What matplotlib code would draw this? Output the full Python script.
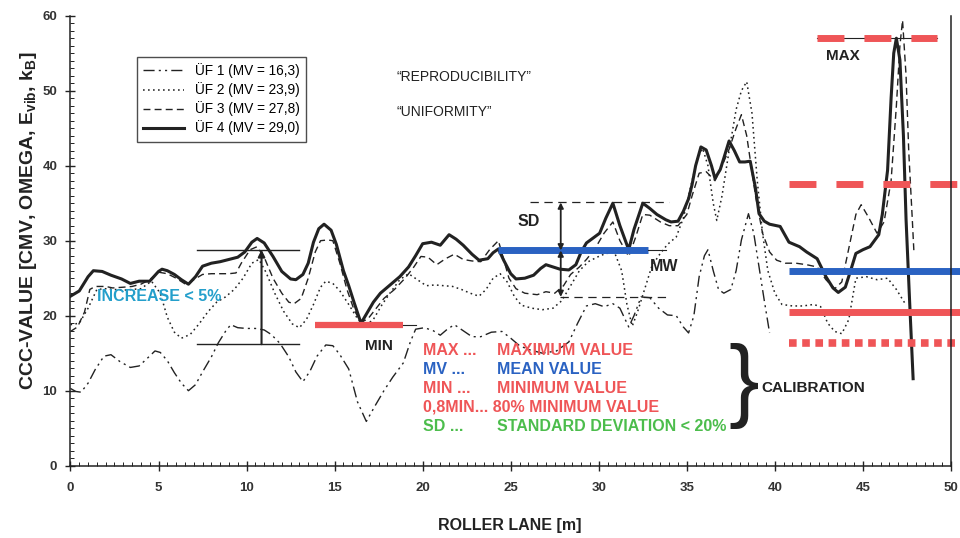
import matplotlib
matplotlib.use("Agg")
import matplotlib.pyplot as plt
from matplotlib.ticker import MultipleLocator

plt.rcParams["font.family"] = ["Liberation Sans", "DejaVu Sans"]
plt.rcParams["mathtext.fontset"] = "custom"
plt.rcParams["mathtext.rm"] = "Liberation Sans"
plt.rcParams["mathtext.bf"] = "Liberation Sans:bold"
plt.rcParams["lines.scale_dashes"] = False

# --- data ---
uf4_x = [0.0, 0.5, 1.0, 1.3, 1.8, 2.3, 2.9, 3.4, 3.9, 4.5, 5.0, 5.2, 5.5, 5.9, 6.3, 6.7,
         7.1, 7.5, 8.0, 8.5, 9.0, 9.5, 9.9, 10.3, 10.6, 11.0, 11.5, 12.0, 12.5, 12.8, 13.2,
         13.5, 13.8, 14.1, 14.4, 14.8, 15.1, 15.5, 15.8, 16.1, 16.5, 16.8, 17.2, 17.6, 18.2,
         18.7, 19.2, 19.6, 20.0, 20.5, 21.0, 21.5, 21.9, 22.3, 22.8, 23.2, 23.7, 24.0, 24.3,
         24.6, 25.0, 25.3, 25.8, 26.3, 26.7, 27.0, 27.4, 27.8, 28.3, 28.7, 29.0, 29.3, 29.7,
         30.05, 30.4, 30.8, 31.2, 31.7, 32.0, 32.5, 32.9, 33.3, 33.8, 34.1, 34.5, 34.8, 35.1,
         35.3, 35.5, 35.8, 36.1, 36.4, 36.6, 36.9, 37.1, 37.4, 37.7, 38.0, 38.3, 38.6, 38.9,
         39.1, 39.4, 39.7, 40.3, 40.8, 41.4, 41.8, 42.4, 42.9, 43.3, 43.6, 44.0, 44.3, 44.6,
         45.0, 45.4, 45.9, 46.1, 46.4, 46.6, 46.75, 46.9, 47.1, 47.3, 47.45, 47.65, 47.85]
uf4_y = [22.6, 23.3, 25.2, 26.0, 25.9, 25.4, 24.9, 24.3, 24.6, 24.6, 25.9, 26.2, 26.0, 25.5,
         24.8, 24.2, 25.2, 26.6, 27.0, 27.2, 27.5, 27.8, 28.5, 29.8, 30.3, 29.7, 27.9, 25.9,
         24.9, 24.8, 25.5, 27.0, 29.8, 31.6, 32.2, 31.4, 29.5, 26.0, 24.0, 21.8, 19.0, 20.2,
         21.8, 23.0, 24.2, 25.2, 26.5, 28.0, 29.6, 29.8, 29.4, 30.8, 30.2, 29.4, 28.2, 27.4,
         27.6, 28.4, 28.9, 27.4, 25.6, 24.9, 25.0, 25.4, 26.3, 26.8, 26.5, 26.2, 26.1, 26.8,
         28.5, 29.7, 30.4, 31.0, 33.0, 35.0, 32.0, 28.8, 31.5, 35.0, 34.3, 33.5, 32.8, 32.5,
         32.6, 33.9, 35.6, 37.5, 40.0, 42.5, 42.1, 40.0, 38.3, 39.5, 41.0, 43.3, 42.0, 40.5,
         40.5, 40.6, 37.0, 33.6, 32.6, 32.2, 31.9, 29.8, 29.2, 28.5, 27.6, 25.2, 23.7, 23.1,
         23.8, 26.0, 28.3, 28.8, 29.2, 30.8, 33.5, 39.4, 49.0, 55.0, 57.0, 54.1, 44.0, 32.8,
         22.0, 11.6]

uf3_x = [0.0, 0.4, 0.8, 1.1, 1.4, 2.0, 2.4, 3.0, 3.5, 4.0, 4.5, 5.0, 5.5, 6.0, 6.6, 7.0,
         7.5, 8.0, 8.5, 9.0, 9.4, 9.7, 10.2, 10.6, 11.0, 11.5, 12.0, 12.4, 12.7, 13.1, 13.5,
         13.9, 14.2, 14.6, 14.9, 15.3, 15.7, 16.1, 16.5, 16.9, 17.3, 17.8, 18.4, 19.0, 19.5,
         19.9, 20.3, 20.8, 21.3, 21.8, 22.3, 22.8, 23.3, 23.8, 24.3, 24.6, 24.9, 25.3, 25.8,
         26.5, 27.0, 27.5, 28.0, 28.4, 28.9, 29.3, 29.8, 30.3, 30.8, 31.2, 31.7, 32.1, 32.5,
         32.9, 33.5, 34.0, 34.5, 35.0, 35.3, 35.7, 36.1, 36.6, 37.0, 37.4, 37.8, 38.1, 38.4,
         38.6, 38.9, 39.3, 39.7, 40.1, 40.6, 41.2, 41.8, 42.4, 42.9, 43.4, 43.8, 44.2, 44.6,
         44.9, 45.3, 45.8, 46.2, 46.6, 46.9, 47.1, 47.25, 47.45, 47.6, 47.8, 47.9]
uf3_y = [17.9, 18.5, 20.5, 23.5, 23.9, 23.9, 23.7, 23.8, 23.9, 24.2, 24.8, 25.8, 25.6, 25.0,
         24.1, 24.8, 25.5, 25.6, 25.6, 25.6, 25.7, 27.0, 28.8, 29.2, 27.8, 25.0, 23.0, 21.8,
         21.6, 22.3, 25.0, 28.5, 30.0, 30.1, 30.0, 27.0, 23.5, 20.8, 19.1, 19.6, 20.8, 22.3,
         23.5, 25.0, 26.5, 27.9, 27.8, 26.8, 27.6, 28.2, 27.5, 27.3, 27.2, 28.8, 30.0, 27.5,
         25.0, 23.6, 23.0, 22.8, 23.2, 23.0, 24.0, 25.5, 26.5, 27.5, 29.0, 31.0, 32.5, 30.0,
         27.9, 30.5, 33.5, 33.4, 32.5, 32.0, 32.0, 33.5, 36.0, 39.0, 39.2, 38.0, 40.0, 42.2,
         45.0, 46.8, 44.0, 40.8, 36.0, 31.0, 28.5, 27.4, 27.0, 27.0, 26.8, 26.5, 24.8, 23.6,
         24.5, 29.0, 33.5, 34.8, 33.2, 31.0, 32.5, 38.0, 48.0, 56.0, 59.4, 52.0, 42.0, 33.0,
         28.3]

uf2_x = [0.0, 0.5, 1.0, 1.5, 2.0, 3.0, 4.0, 4.6, 5.1, 5.5, 5.9, 6.3, 6.8, 7.3, 7.8, 8.3,
         8.8, 9.3, 9.8, 10.3, 10.7, 11.1, 11.6, 12.1, 12.6, 13.0, 13.4, 13.8, 14.2, 14.5,
         14.9, 15.3, 15.8, 16.3, 16.7, 17.2, 17.7, 18.2, 18.7, 19.2, 19.7, 20.2, 20.7, 21.2,
         21.7, 22.2, 22.7, 23.2, 23.6, 24.0, 24.4, 24.8, 25.2, 25.6, 26.2, 26.8, 27.4, 27.9,
         28.4, 28.9, 29.4, 29.9, 30.4, 30.9, 31.3, 31.6, 31.9, 32.2, 32.6, 33.0, 33.4, 33.9,
         34.4, 34.8, 35.2, 35.6, 35.9, 36.2, 36.5, 36.7, 37.0, 37.4, 37.8, 38.1, 38.4, 38.7,
         39.0, 39.3, 39.6, 40.0, 40.4, 41.0, 41.6, 42.2, 42.6, 43.0, 43.4, 43.8, 44.2, 44.6,
         45.2, 45.8, 46.4, 46.9, 47.4]
uf2_y = [18.8, 19.0, 21.0, 23.5, 23.6, 23.4, 23.6, 24.6, 23.0, 19.8, 17.8, 17.0, 17.5, 18.9,
         20.5, 21.8, 22.5, 23.5, 25.0, 27.0, 27.5, 25.8, 23.0, 20.6, 18.9, 18.4, 19.5, 21.5,
         23.8, 24.6, 24.3, 23.3, 21.5, 19.6, 18.6, 19.5, 21.5, 23.2, 24.8, 25.6, 24.8, 24.0,
         24.1, 24.0, 23.9, 23.5, 23.0, 22.6, 23.5, 25.0, 25.6, 24.5, 22.6, 21.4, 21.0, 20.8,
         21.0, 22.0, 24.0, 26.0, 27.2, 27.8, 28.3, 28.4, 26.0, 21.5, 18.6, 20.5, 23.5, 26.5,
         28.0, 29.5, 30.5, 33.0, 37.0, 41.0, 42.3, 40.0, 35.0, 32.7, 36.0, 42.0, 47.5, 50.0,
         51.2, 47.0, 38.0, 31.0, 26.0, 23.0, 21.5, 21.3, 21.3, 21.5, 21.2, 19.0, 17.9, 17.6,
         19.5, 25.0, 25.2, 24.8, 25.0, 23.5, 21.6]

uf1_x = [0.0, 0.3, 0.6, 1.0, 1.4, 1.9, 2.3, 2.8, 3.4, 3.9, 4.4, 4.8, 5.1, 5.5, 5.9, 6.3,
         6.7, 7.1, 7.5, 8.0, 8.4, 8.8, 9.1, 9.5, 10.0, 10.5, 11.0, 11.4, 11.9, 12.4, 12.8,
         13.2, 13.6, 14.0, 14.5, 14.9, 15.3, 15.8, 16.3, 16.8, 17.3, 17.8, 18.3, 18.9, 19.3,
         19.6, 20.1, 20.6, 21.0, 21.4, 21.8, 22.3, 22.8, 23.3, 23.9, 24.5, 25.0, 25.5, 26.0,
         26.8, 27.6, 28.3, 28.8, 29.3, 29.8, 30.3, 30.8, 31.2, 31.7, 32.0, 32.4, 32.9, 33.4,
         33.9, 34.4, 34.8, 35.1, 35.4, 35.7, 36.0, 36.2, 36.5, 36.8, 37.1, 37.5, 37.8, 38.1,
         38.5, 38.8, 39.1, 39.4, 39.7]
uf1_y = [10.3, 9.9, 9.8, 11.0, 12.8, 14.6, 14.8, 13.9, 13.1, 13.3, 14.4, 15.3, 15.1, 14.0,
         12.4, 11.0, 10.0, 10.8, 12.5, 14.5, 16.4, 17.9, 18.8, 18.4, 18.3, 18.3, 18.1, 17.5,
         16.3, 14.5, 12.5, 11.2, 12.6, 14.6, 16.1, 16.0, 14.8, 12.9, 8.5, 5.9, 8.0, 10.0,
         11.8, 13.7, 16.5, 18.2, 18.4, 18.0, 17.4, 18.2, 18.8, 18.0, 17.2, 17.2, 17.8, 17.9,
         17.0, 16.0, 15.5, 15.0, 15.3, 16.5, 19.0, 21.3, 21.6, 21.2, 21.6, 21.0, 18.5, 20.0,
         22.5, 22.4, 21.0, 20.1, 20.0, 18.5, 17.7, 20.0, 25.2, 28.0, 28.8, 26.0, 23.5, 23.0,
         23.5, 26.0, 30.1, 33.6, 31.0, 26.5, 22.0, 17.7]

legend_labels = ["ÜF 1 (MV = 16,3)", "ÜF 2 (MV = 23,9)", "ÜF 3 (MV = 27,8)", "ÜF 4 (MV = 29,0)"]

max_level = 57.0
mw_level = 28.7
min_level = 18.7
cal_dashed = 37.6
cal_mean = 25.9
cal_min = 20.5
cal_08min = 16.3
sd_top, sd_bottom = 35.1, 22.5
inc_top, inc_bottom = 28.8, 16.2

key_left = ["MAX ...", "MV ...", "MIN ...", "0,8MIN... 80% MINIMUM VALUE", "SD ..."]
key_right = ["MAXIMUM VALUE", "MEAN VALUE", "MINIMUM VALUE", "", "STANDARD DEVIATION < 20%"]

RED = "#ef5557"
BLUE = "#2a62c2"
GREEN = "#4cbd4c"
CYAN = "#249fcb"
INK = "#222222"

fig = plt.figure(figsize=(9.6, 5.38), dpi=100)
ax = fig.add_axes([0.0734, 0.1344, 0.9172, 0.8364])

ax.plot(uf1_x, uf1_y, color=INK, lw=1.0, ls=(0, (8, 3, 1.5, 3, 1.5, 3)), label=legend_labels[0])
ax.plot(uf2_x, uf2_y, color=INK, lw=1.1, ls=(0, (1.2, 2.4)), label=legend_labels[1])
ax.plot(uf3_x, uf3_y, color=INK, lw=1.0, ls=(0, (5, 3)), label=legend_labels[2])
ax.plot(uf4_x, uf4_y, color=INK, lw=2.2, label=legend_labels[3])

# reference bars
ax.plot([13.9, 18.9], [min_level] * 2, color=RED, lw=4.5, solid_capstyle="butt")
ax.plot([18.9, 19.6], [min_level] * 2, color=INK, lw=0.8)
ax.plot([24.3, 32.8], [mw_level] * 2, color=BLUE, lw=5, solid_capstyle="butt")
ax.plot([32.8, 33.8], [mw_level] * 2, color=INK, lw=0.8)
ax.plot([42.4, 49.2], [max_level] * 2, color=INK, lw=0.8)
ax.plot([42.4, 49.2], [max_level] * 2, color=RED, lw=5, ls=(0, (19.4, 14.4)), dash_capstyle="butt")

# calibration levels on the right
ax.plot([40.8, 50.5], [cal_dashed] * 2, color=RED, lw=5, ls=(0, (19.4, 14.4)), dash_capstyle="butt",
        clip_on=False)
ax.plot([40.8, 50.5], [cal_mean] * 2, color=BLUE, lw=5, solid_capstyle="butt", clip_on=False)
ax.plot([40.8, 50.5], [cal_min] * 2, color=RED, lw=5, solid_capstyle="butt", clip_on=False)
ax.plot([40.8, 50.5], [cal_08min] * 2, color=RED, lw=5.5, ls=(0, (5.5, 4)), dash_capstyle="butt",
        clip_on=False)

# SD marker
ax.plot([26.1, 34.0], [sd_top] * 2, color=INK, lw=0.9, ls=(0, (6, 4)))
ax.plot([27.8, 34.0], [sd_bottom] * 2, color=INK, lw=0.9, ls=(0, (6, 4)))
for a, b in [(sd_top, mw_level), (mw_level, sd_bottom)]:
    ax.annotate("", xy=(27.84, a), xytext=(27.84, b),
                arrowprops=dict(arrowstyle="<|-|>", lw=1.3, color=INK, mutation_scale=8,
                                shrinkA=0, shrinkB=0))

# increase marker
ax.plot([7.2, 13.0], [inc_top] * 2, color=INK, lw=1.0)
ax.plot([7.2, 13.0], [inc_bottom] * 2, color=INK, lw=1.0)
ax.annotate("", xy=(10.85, inc_top), xytext=(10.85, inc_bottom),
            arrowprops=dict(arrowstyle="-|>", lw=1.5, color=INK, mutation_scale=10,
                            shrinkA=0, shrinkB=0))

# texts
ax.text(18.5, 51.8, "\u201cREPRODUCIBILITY\u201d", fontsize=10, color=INK, va="center")
ax.text(18.5, 47.1, "\u201cUNIFORMITY\u201d", fontsize=10, color=INK, va="center")
ax.text(1.5, 22.5, "INCREASE < 5%", fontsize=11.5, color=CYAN, fontweight="bold", va="center")
ax.text(25.4, 32.5, "SD", fontsize=11.5, color=INK, fontweight="bold", va="center")
ax.text(32.9, 26.5, "MW", fontsize=11.5, color=INK, fontweight="bold", va="center")
ax.text(16.7, 16.0, "MIN", fontsize=11, color=INK, fontweight="bold", va="center")
ax.text(42.9, 54.6, "MAX", fontsize=11, color=INK, fontweight="bold", va="center")
ax.text(39.25, 10.4, "CALIBRATION", fontsize=11, color=INK, fontweight="bold", va="center")

key_colors = [RED, BLUE, RED, RED, GREEN]
key_y = [15.3, 12.85, 10.3, 7.8, 5.2]
for lt, rt, c, yy in zip(key_left, key_right, key_colors, key_y):
    ax.text(20.0, yy, lt, fontsize=11.5, color=c, fontweight="bold", va="center")
    if rt:
        ax.text(24.2, yy, rt, fontsize=11.5, color=c, fontweight="bold", va="center")
ax.text(38.25, 10.6, "}", fontsize=66, color=INK, ha="center", va="center")

# axes styling
ax.set_xlim(0, 50)
ax.set_ylim(0, 60)
ax.xaxis.set_major_locator(MultipleLocator(5))
ax.xaxis.set_minor_locator(MultipleLocator(0.5))
ax.yaxis.set_major_locator(MultipleLocator(10))
ax.yaxis.set_minor_locator(MultipleLocator(1))
ax.tick_params(which="major", direction="inout", length=7, width=1, color=INK,
               labelsize=9.5, labelcolor="#333333", pad=8)
ax.tick_params(which="minor", direction="in", length=3, width=0.7, color=INK)
ax.tick_params(axis="y", pad=6)
for lab in ax.get_xticklabels() + ax.get_yticklabels():
    lab.set_fontweight("bold")
ax.spines["top"].set_visible(False)
for s in ["left", "bottom", "right"]:
    ax.spines[s].set_color(INK)
    ax.spines[s].set_linewidth(1.1)

leg = ax.legend(loc="upper left", bbox_to_anchor=(0.0755, 0.908), borderaxespad=0,
                fontsize=9.8, handlelength=3.0, frameon=True, fancybox=False,
                edgecolor=INK, labelspacing=0.3, borderpad=0.45)
leg.get_frame().set_linewidth(1.0)

fig.text(0.03, 0.59, r"CCC-VALUE [CMV, OMEGA, E$_{\mathbf{vib}}$, k$_{\mathbf{B}}$]",
         rotation=90, fontsize=14, fontweight="bold", color=INK, ha="center", va="center")
fig.text(0.531, 0.024, "ROLLER LANE [m]", fontsize=11.5, fontweight="bold", color=INK,
         ha="center", va="center")

fig.savefig("out.png", dpi=100)
